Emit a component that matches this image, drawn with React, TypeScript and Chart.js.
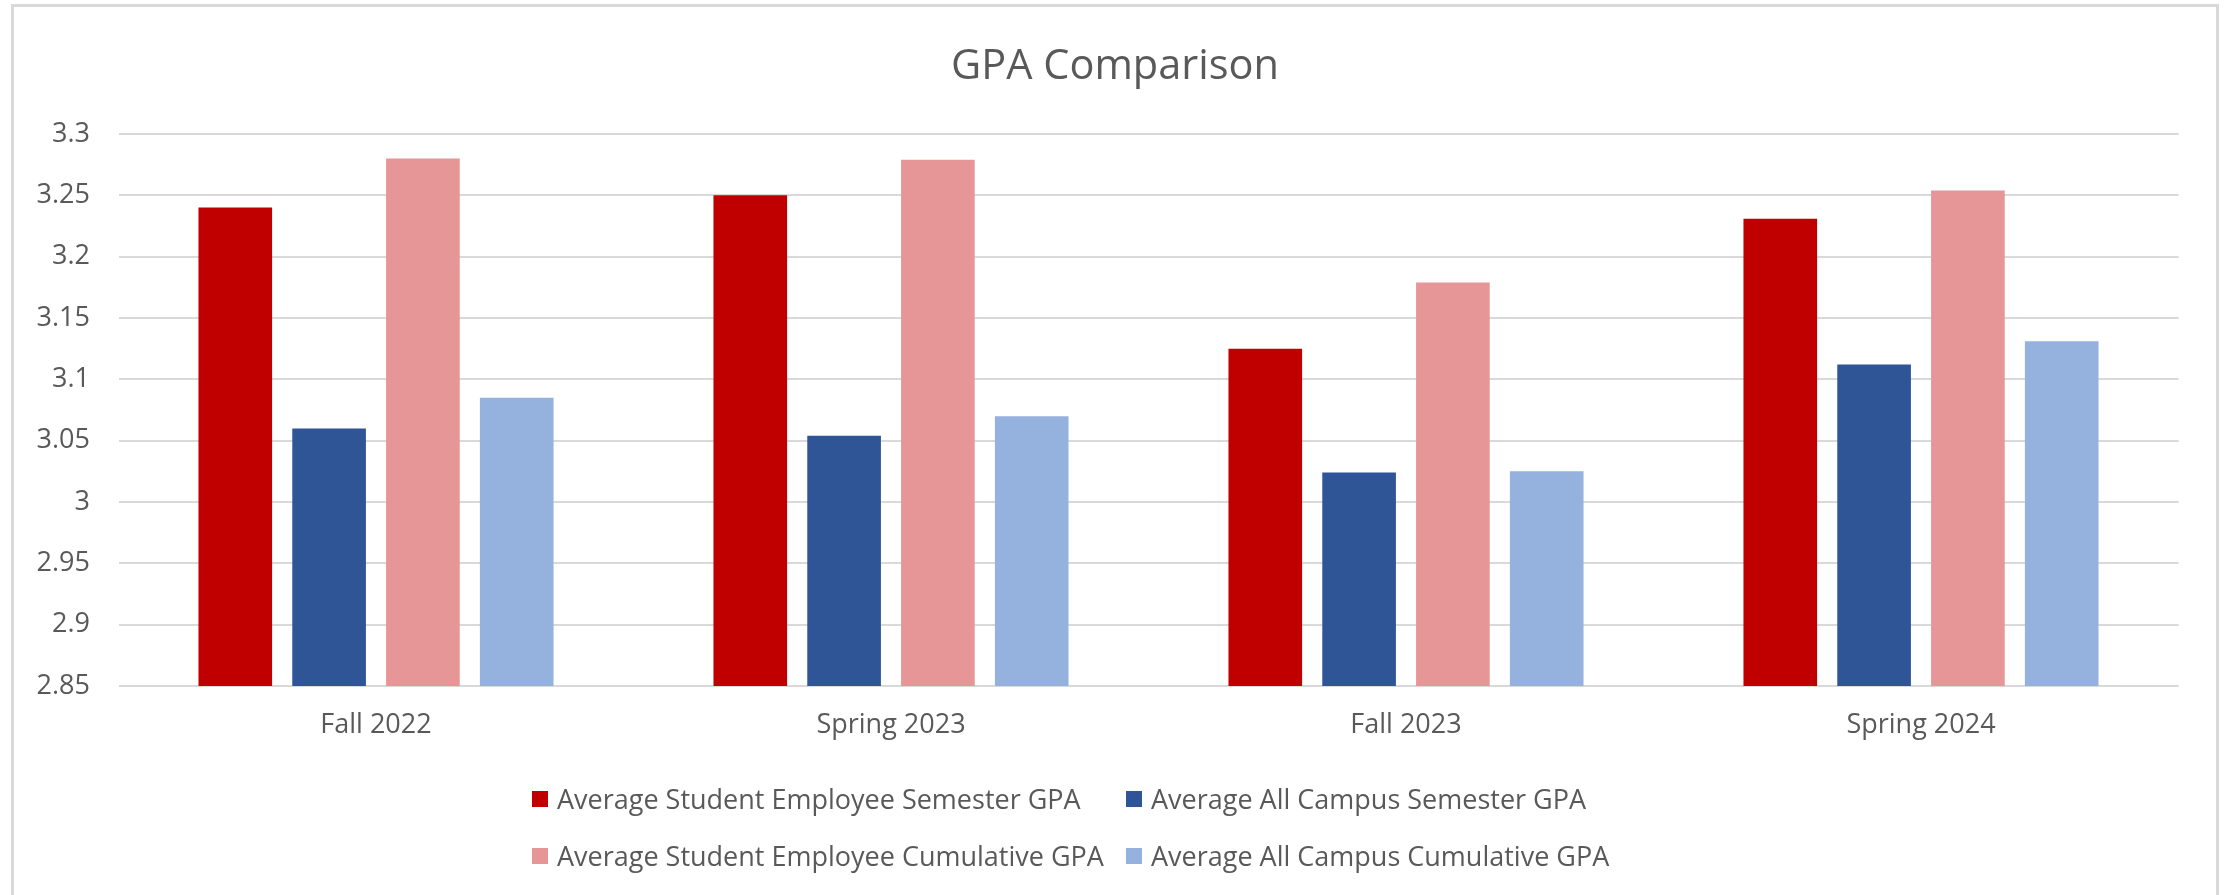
import React, { useEffect, useRef } from "react";
import { Chart, registerables } from "chart.js";

Chart.register(...registerables);

const titleText = "GPA Comparison";
const categories = ["Fall 2022", "Spring 2023", "Fall 2023", "Spring 2024"];
const seSemester = [3.24, 3.25, 3.125, 3.231];
const campusSemester = [3.06, 3.054, 3.024, 3.112];
const seCumulative = [3.28, 3.279, 3.179, 3.254];
const campusCumulative = [3.085, 3.07, 3.025, 3.131];
const seriesNames = [
  "Average Student Employee Semester GPA",
  "Average All Campus Semester GPA",
  "Average Student Employee Cumulative GPA",
  "Average All Campus Cumulative GPA",
];
const seriesColors = ["#C00000", "#2F5597", "#E69696", "#95B1DD"];
const yTickLabels = ["2.85", "2.9", "2.95", "3", "3.05", "3.1", "3.15", "3.2", "3.25", "3.3"];

const FONT = "'Open Sans', 'Noto Sans', sans-serif";
const TEXT_COLOR = "#595959";
const GRID_COLOR = "#d9d9d9";

const CANVAS_W = 2202;
const CANVAS_H = 888;

// legend layout: [series index] placed row by row, two columns
const legendOrder = [
  [0, 1],
  [2, 3],
];

export default function App() {
  const canvasRef = useRef<HTMLCanvasElement | null>(null);

  useEffect(() => {
    const canvas = canvasRef.current;
    if (!canvas) return;
    const seriesValues = [seSemester, campusSemester, seCumulative, campusCumulative];
    const chart = new Chart(canvas, {
      type: "bar",
      data: {
        labels: categories,
        datasets: seriesValues.map((vals, i) => ({
          label: seriesNames[i],
          data: vals,
          backgroundColor: seriesColors[i],
          borderWidth: 0,
          categoryPercentage: 0.7286,
          barPercentage: 0.785,
        })),
      },
      options: {
        responsive: false,
        animation: false,
        devicePixelRatio: 1,
        layout: {
          padding: { left: 0, right: 0, top: 0, bottom: 130 },
        },
        plugins: {
          legend: { display: false },
          tooltip: { enabled: false },
          title: {
            display: true,
            text: titleText,
            color: TEXT_COLOR,
            font: { family: FONT, size: 41.5, weight: "normal", lineHeight: 1.2 },
            padding: { top: 35.5, bottom: 41.7 },
          },
        },
        scales: {
          x: {
            grid: { display: false, drawTicks: false },
            border: { display: false },
            ticks: {
              color: TEXT_COLOR,
              font: { family: FONT, size: 27, lineHeight: 1.2 },
              padding: 23.3,
              maxRotation: 0,
              autoSkip: false,
            },
          },
          y: {
            min: 2.85,
            max: 3.3,
            grid: { color: GRID_COLOR, lineWidth: 2, drawTicks: false },
            border: { display: false },
            afterFit: (scale: any) => {
              scale.width = 104.5;
            },
            ticks: {
              stepSize: 0.05,
              color: TEXT_COLOR,
              font: { family: FONT, size: 27, lineHeight: 1.2 },
              padding: 28.5,
              callback: (value: any) => {
                const v = Number(value);
                const found = yTickLabels.find((t) => Math.abs(Number(t) - v) < 1e-6);
                return found !== undefined ? found : String(Number(v.toFixed(2)));
              },
            },
          },
          spacerRight: {
            type: "linear",
            position: "right",
            display: true,
            min: 0,
            max: 1,
            grid: { display: false, drawTicks: false },
            border: { display: false },
            ticks: { display: false },
            afterFit: (scale: any) => {
              scale.width = 37.5;
            },
          },
        },
      },
    } as any);
    return () => chart.destroy();
  }, []);

  return (
    <div
      style={{
        position: "fixed",
        left: 11,
        top: 4,
        width: 2208,
        height: 1000,
        boxSizing: "border-box",
        border: `3px solid ${GRID_COLOR}`,
        background: "#ffffff",
      }}
    >
      <canvas
        ref={canvasRef}
        width={CANVAS_W}
        height={CANVAS_H}
        style={{ position: "absolute", left: 0, top: 0, width: CANVAS_W, height: CANVAS_H }}
      />
      <div
        style={{
          position: "absolute",
          left: 518,
          top: 763,
          display: "grid",
          gridTemplateColumns: "594px auto",
          fontFamily: FONT,
          fontSize: 27,
          color: TEXT_COLOR,
          lineHeight: "57px",
          whiteSpace: "nowrap",
        }}
      >
        {legendOrder.flat().map((si) => (
          <div key={si} style={{ display: "flex", alignItems: "center", height: 57 }}>
            <span
              style={{
                display: "inline-block",
                width: 16,
                height: 16,
                background: seriesColors[si],
                marginRight: 9,
                flex: "none",
              }}
            />
            <span>{seriesNames[si]}</span>
          </div>
        ))}
      </div>
    </div>
  );
}
